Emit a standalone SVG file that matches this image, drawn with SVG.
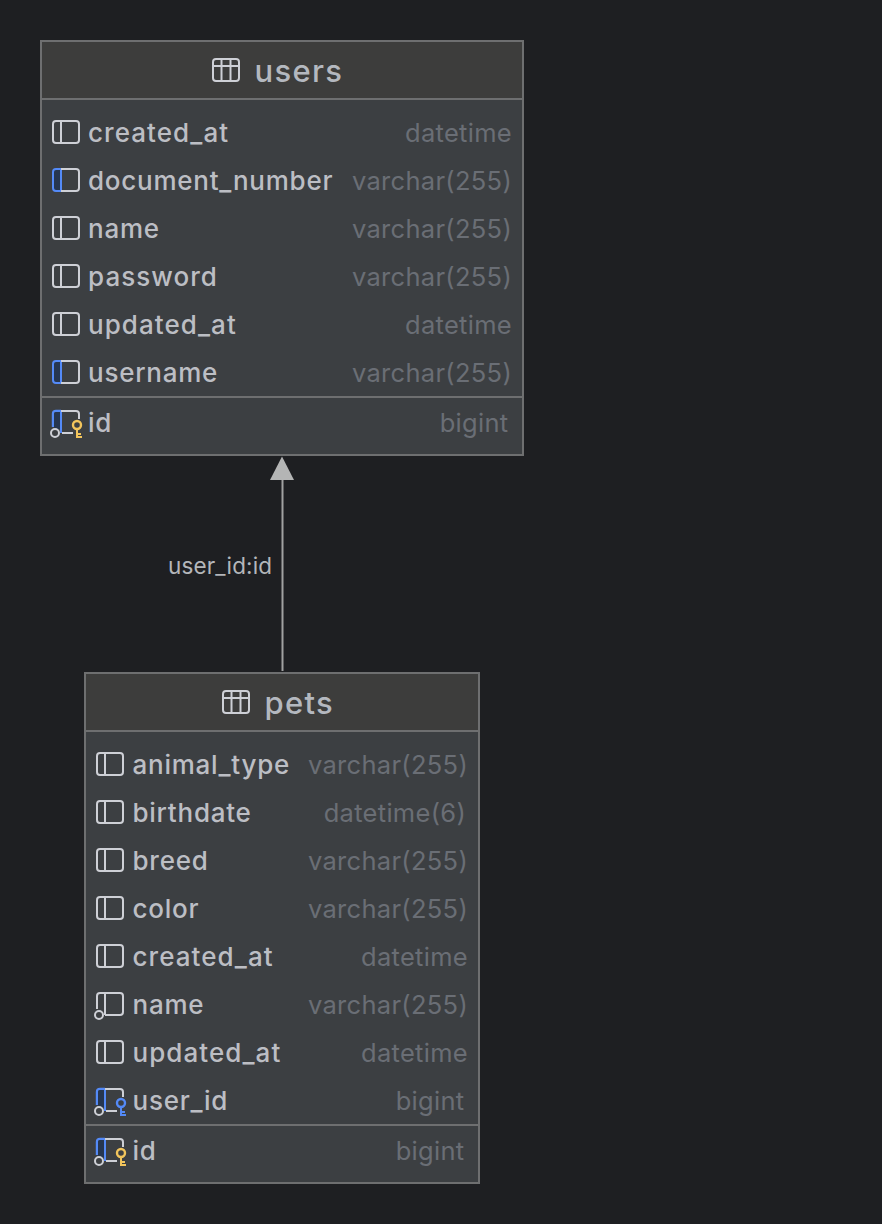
<svg xmlns="http://www.w3.org/2000/svg" width="882" height="1224" viewBox="0 0 882 1224">
<style>
text{font-family:"Inter","Liberation Sans",sans-serif}
.t{font-size:31px;fill:#b4b8bf;font-weight:500;letter-spacing:1.3px}
.c{font-size:26px;fill:#bcbec4;font-weight:500;letter-spacing:.75px}
.w{letter-spacing:1.05px}
.d{font-size:25.5px;fill:#6a6e75;text-anchor:end;letter-spacing:.3px}
.l{font-size:22.5px;fill:#b4b6ba;letter-spacing:.15px}
.box{fill:#3c3f42;stroke:#6e6f70;stroke-width:2}
.hd{fill:#3d3d3c}
.sep{stroke:#6e6f70;stroke-width:2}
.i{fill:none;stroke:#ced0d6;stroke-width:2}
</style>
<defs>
<g id="col"><rect x="1" y="1" width="26" height="22" rx="3" class="i"/><path d="M9 1V23" class="i"/></g>
<g id="blue"><path d="M9 1H4Q1 1 1 4V20Q1 23 4 23H9Z" fill="#263650" stroke="#548af7" stroke-width="2"/><path d="M9 1H24Q27 1 27 4V20Q27 23 24 23H9" class="i"/></g>
<g id="fk"><path d="M9 1H4Q1 1 1 4V17M9 1V23M9 1H24Q27 1 27 4V20Q27 23 24 23H9" class="i"/><circle cx="3" cy="23" r="4" fill="#3c3f42" stroke="#ced0d6" stroke-width="2"/></g>
<g id="pk"><path d="M9 1H4Q1 1 1 4V17" fill="none" stroke="#548af7" stroke-width="2.4"/><path d="M9 1V19H2V4Q2 2 4 2H9Z" fill="#263650"/><path d="M9 1V23" stroke="#548af7" stroke-width="2"/><path d="M9 1H24Q27 1 27 4V9M10 23H21" class="i"/><circle cx="3" cy="23" r="4" fill="#3c3f42" stroke="#ced0d6" stroke-width="2"/></g>
<g id="keyY"><circle cx="26" cy="15" r="4" fill="none" stroke="#f2c55c" stroke-width="2.4"/><path d="M26 19V28M26 27H31M26 24H30" fill="none" stroke="#f2c55c" stroke-width="2"/></g>
<g id="keyB"><circle cx="26" cy="15" r="4" fill="none" stroke="#548af7" stroke-width="2.4"/><path d="M26 19V28M26 27H31M26 24H30" fill="none" stroke="#548af7" stroke-width="2"/></g>
<g id="tbl"><rect x="1" y="1" width="26" height="22" rx="3" class="i"/><path d="M1 8H27M9.500 1V23M18.500 1V23" class="i"/></g>
</defs>
<rect width="882" height="1224" fill="#1e1f22"/>
<g id="connectors">
<path d="M282.500 671V478" stroke="#a0a1a1" stroke-width="2" fill="none"/>
<path d="M282 456.500L270 480H294Z" fill="#b4b5b5"/>
<text class="l" x="168" y="574">user_id:id</text>
</g>
<g id="users">
<rect class="box" x="41" y="41" width="482" height="414"/>
<rect class="hd" x="42" y="42" width="480" height="57"/>
<path class="sep" d="M42 99H522M42 397H522"/>
<use href="#tbl" x="212" y="58"/>
<text class="t" x="254.500" y="81.500">users</text>
<use href="#col" x="52" y="120"/><text class="c w" x="88" y="142">created_at</text><text class="d" x="512" y="142">datetime</text>
<use href="#blue" x="52" y="168"/><text class="c" x="88" y="190">document_number</text><text class="d" x="512" y="190">varchar(255)</text>
<use href="#col" x="52" y="216"/><text class="c" x="88" y="238">name</text><text class="d" x="512" y="238">varchar(255)</text>
<use href="#col" x="52" y="264"/><text class="c w" x="88" y="286">password</text><text class="d" x="512" y="286">varchar(255)</text>
<use href="#col" x="52" y="312"/><text class="c w" x="88" y="334">updated_at</text><text class="d" x="512" y="334">datetime</text>
<use href="#blue" x="52" y="360"/><text class="c" x="88" y="382">username</text><text class="d" x="512" y="382">varchar(255)</text>
<use href="#pk" x="52" y="410"/><use href="#keyY" x="51" y="410"/><text class="c" x="88" y="432">id</text><text class="d" x="508.500" y="432">bigint</text>
</g>
<g id="pets">
<rect class="box" x="85" y="673" width="394" height="510"/>
<rect class="hd" x="86" y="674" width="392" height="57"/>
<path class="sep" d="M86 731H478M86 1125H478"/>
<use href="#tbl" x="222" y="690"/>
<text class="t" x="264.500" y="713.500">pets</text>
<use href="#col" x="96" y="752"/><text class="c" x="132.500" y="774">animal_type</text><text class="d" x="468" y="774">varchar(255)</text>
<use href="#col" x="96" y="800"/><text class="c" x="132.500" y="822">birthdate</text><text class="d" x="466" y="822">datetime(6)</text>
<use href="#col" x="96" y="848"/><text class="c" x="132.500" y="870">breed</text><text class="d" x="468" y="870">varchar(255)</text>
<use href="#col" x="96" y="896"/><text class="c" x="132.500" y="918">color</text><text class="d" x="468" y="918">varchar(255)</text>
<use href="#col" x="96" y="944"/><text class="c w" x="132.500" y="966">created_at</text><text class="d" x="468" y="966">datetime</text>
<use href="#fk" x="96" y="992"/><text class="c" x="132.500" y="1014">name</text><text class="d" x="468" y="1014">varchar(255)</text>
<use href="#col" x="96" y="1040"/><text class="c w" x="132.500" y="1062">updated_at</text><text class="d" x="468" y="1062">datetime</text>
<use href="#pk" x="96" y="1088"/><use href="#keyB" x="95" y="1088"/><text class="c" x="132.500" y="1110">user_id</text><text class="d" x="464.500" y="1110">bigint</text>
<use href="#pk" x="96" y="1138"/><use href="#keyY" x="95" y="1138"/><text class="c" x="132.500" y="1160">id</text><text class="d" x="464.500" y="1160">bigint</text>
</g>
</svg>
